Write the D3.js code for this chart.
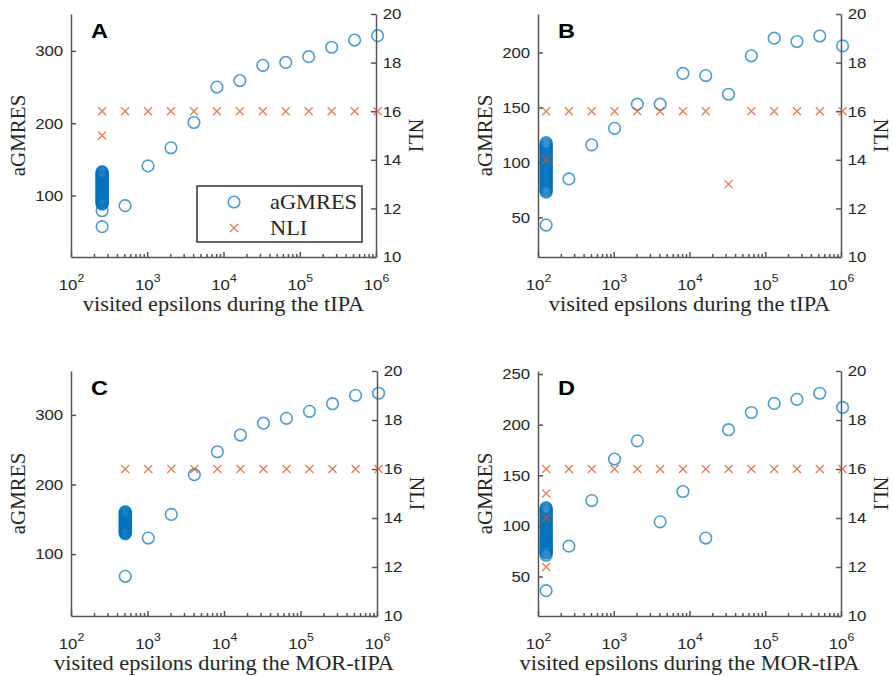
<!DOCTYPE html>
<html>
  <head>
    <meta charset="utf-8" />
    <script src="https://cdn.jsdelivr.net/npm/d3@7"></script>
    <style>
      body { margin: 0; background: #fff; }
      .tick line, .domain { stroke: #555; stroke-width: 1.5; }
      .tick text { fill: #262626; }
      .circ { fill: none; stroke: #0072BD; stroke-width: 1.6; stroke-opacity: 0.7; }
      .cross { fill: none; stroke: #D95319; stroke-width: 1.3; stroke-opacity: 0.75; }
    </style>
  </head>
  <body>
    <script type="text/javascript">
// --- data ---
// A: tIPA
var epsA = [256, 512, 1024, 2048, 4096, 8192, 16384, 32768, 65536, 131072, 262144, 524288, 1048576];
var gmresA = [57, 86, 141, 166, 201, 250, 259, 280, 284, 292, 305, 315, 321];
// the dense run of aGMRES values at the first epsilon (looks like a solid bar)
var gmresAFirst = [79, 88, 89, 90, 91, 92, 93, 94, 95, 96, 97, 98, 99, 100, 101, 102, 103, 104, 105, 106,
  107, 108, 109, 110, 111, 112, 113, 114, 115, 116, 117, 118, 119, 120, 121, 122, 123, 124, 125, 126,
  127, 128, 129, 130, 131, 132, 133];
var nliA = [16, 16, 16, 16, 16, 16, 16, 16, 16, 16, 16, 16, 16];
var nliAFirst = [15];

// B: tIPA
var epsB = [128, 256, 512, 1024, 2048, 4096, 8192, 16384, 32768, 65536, 131072, 262144, 524288, 1048576];
var gmresB = [43, 85, 116, 131, 153, 153, 181, 179, 162, 197, 213, 210, 215, 206];
var gmresBFirst = [73, 74, 75, 76, 77, 78, 79, 80, 81, 82, 83, 84, 85, 86, 87, 88, 89, 90, 91, 92,
  93, 94, 95, 96, 97, 98, 99, 100, 101, 102, 103, 104, 105, 106, 107, 108, 109, 110, 111, 112,
  113, 114, 115, 116, 117, 118];
var nliB = [16, 16, 16, 16, 16, 16, 16, 16, 13, 16, 16, 16, 16, 16];
var nliBFirst = [14];

// C: MOR-tIPA
var epsC = [512, 1024, 2048, 4096, 8192, 16384, 32768, 65536, 131072, 262144, 524288, 1048576];
var gmresC = [68, 123, 157, 214, 247, 271, 288, 295, 305, 316, 328, 331];
var gmresCFirst = [129, 130, 131, 132, 133, 134, 135, 136, 137, 138, 139, 140, 141, 142, 143, 144, 145,
  146, 147, 148, 149, 150, 151, 152, 153, 154, 155, 156, 157, 158, 159, 160, 161];
var nliC = [16, 16, 16, 16, 16, 16, 16, 16, 16, 16, 16, 16];
var nliCFirst = [];

// D: MOR-tIPA
var epsD = [128, 256, 512, 1024, 2048, 4096, 8192, 16384, 32768, 65536, 131072, 262144, 524288, 1048576];
var gmresD = [36, 80, 125, 166, 184, 104, 134, 88, 195, 212, 221, 225, 231, 217];
var gmresDFirst = [71, 73, 74, 75, 76, 77, 78, 79, 80, 81, 82, 83, 84, 85, 86, 87, 88, 89, 90, 91,
  92, 93, 94, 95, 96, 97, 98, 99, 100, 101, 102, 103, 104, 105, 106, 107, 108, 109, 110, 111,
  112, 113, 114, 115, 116, 117, 118];
var nliD = [16, 16, 16, 16, 16, 16, 16, 16, 16, 16, 16, 16, 16, 16];
var nliDFirst = [15, 14, 12];

// tick labels
var xMajor = [1e2, 1e3, 1e4, 1e5, 1e6];
var nliTicks = [10, 12, 14, 16, 18, 20];
var ticksA = [100, 200, 300];
var ticksB = [50, 100, 150, 200];
var ticksC = [100, 200, 300];
var ticksD = [50, 100, 150, 200, 250];

var panels = [
  {name: "A", left: 71, right: 376, top: 14, bottom: 257, yDom: [15, 351], yTicks: ticksA,
   eps: epsA, gmres: gmresA, first: gmresAFirst, nli: nliA, nliFirst: nliAFirst,
   xlabel: "visited epsilons during the tIPA", legend: true},
  {name: "B", left: 538, right: 841, top: 14, bottom: 257, yDom: [14, 235], yTicks: ticksB,
   eps: epsB, gmres: gmresB, first: gmresBFirst, nli: nliB, nliFirst: nliBFirst,
   xlabel: "visited epsilons during the tIPA", legend: false},
  {name: "C", left: 71, right: 377, top: 371, bottom: 616, yDom: [11, 363], yTicks: ticksC,
   eps: epsC, gmres: gmresC, first: gmresCFirst, nli: nliC, nliFirst: nliCFirst,
   xlabel: "visited epsilons during the MOR-tIPA", legend: false},
  {name: "D", left: 538, right: 841, top: 371, bottom: 616, yDom: [11, 253], yTicks: ticksD,
   eps: epsD, gmres: gmresD, first: gmresDFirst, nli: nliD, nliFirst: nliDFirst,
   xlabel: "visited epsilons during the MOR-tIPA", legend: false}
];

var svg = d3.select("body").append("svg")
  .attr("width", 893)
  .attr("height", 676);

var stretch = "scale(1.12,1)";
var crossPath = "M-4,-4L4,4M-4,4L4,-4";
var sans = "'Liberation Sans', Arial, sans-serif";
var serif = "'Liberation Serif', 'Times New Roman', serif";

function drawPanel(p) {
  var x = d3.scaleLog().domain([1e2, 1e6]).range([p.left, p.right]);
  var yL = d3.scaleLinear().domain(p.yDom).range([p.bottom, p.top]);
  var yR = d3.scaleLinear().domain([10, 20]).range([p.bottom, p.top]);
  var g = svg.append("g");

  // minor log ticks on the x axis
  var minor = x.ticks().filter(function(v) { return xMajor.indexOf(v) < 0; });
  g.append("g")
    .attr("transform", "translate(0," + p.bottom + ")")
    .call(d3.axisBottom(x).tickValues(minor).tickSizeInner(-3).tickSizeOuter(0).tickFormat(""))
    .select(".domain").remove();

  var xa = g.append("g")
    .attr("transform", "translate(0," + p.bottom + ")")
    .call(d3.axisBottom(x).tickValues(xMajor).tickSizeInner(-5).tickSizeOuter(0).tickFormat(""));
  xa.selectAll(".tick").append("text")
    .attr("y", 33)
    .attr("text-anchor", "middle")
    .attr("font-family", sans)
    .attr("font-size", 15)
    .attr("transform", stretch)
    .each(function(d) {
      var t = d3.select(this);
      t.append("tspan").text("10");
      t.append("tspan").attr("dy", -8).attr("font-size", 11).text(Math.round(Math.log10(d)));
    });

  var la = g.append("g")
    .attr("transform", "translate(" + p.left + ",0)")
    .call(d3.axisLeft(yL).tickValues(p.yTicks).tickSizeInner(-5).tickSizeOuter(0).tickPadding(7));
  la.selectAll("text")
    .attr("font-family", sans)
    .attr("font-size", 15)
    .attr("transform", stretch);

  var ra = g.append("g")
    .attr("transform", "translate(" + p.right + ",0)")
    .call(d3.axisRight(yR).tickValues(nliTicks).tickSizeInner(-5).tickSizeOuter(0).tickPadding(6));
  ra.selectAll("text")
    .attr("font-family", sans)
    .attr("font-size", 15)
    .attr("transform", stretch);

  // axis titles
  g.append("text")
    .attr("transform", "translate(" + ((p.left + p.right) / 2) + "," + (p.bottom + 54) + ") " + stretch)
    .attr("text-anchor", "middle")
    .attr("font-family", serif)
    .attr("font-size", 20)
    .attr("fill", "#262626")
    .text(p.xlabel);

  g.append("text")
    .attr("transform", "translate(" + (p.left - 53) + "," + ((p.top + p.bottom) / 2) + ") rotate(-90)")
    .attr("text-anchor", "middle")
    .attr("dy", "0.35em")
    .attr("font-family", serif)
    .attr("font-size", 21)
    .attr("fill", "#262626")
    .text("aGMRES");

  g.append("text")
    .attr("transform", "translate(" + (p.right + 40) + "," + ((p.top + p.bottom) / 2) + ") rotate(90)")
    .attr("text-anchor", "middle")
    .attr("dy", "0.35em")
    .attr("font-family", serif)
    .attr("font-size", 20)
    .attr("fill", "#262626")
    .text("NLI");

  // panel letter
  g.append("text")
    .attr("transform", "translate(" + (p.left + 20) + "," + (p.top + 24) + ") " + stretch)
    .attr("font-family", sans)
    .attr("font-weight", "bold")
    .attr("font-size", 21)
    .attr("fill", "#000")
    .text(p.name);

  // aGMRES circles: extra runs at the first epsilon, then one per epsilon
  var circ = p.first.map(function(v) { return [p.eps[0], v]; })
    .concat(p.eps.map(function(e, i) { return [e, p.gmres[i]]; }));
  g.selectAll(".circ")
    .data(circ)
    .enter()
    .append("circle")
      .attr("class", "circ")
      .attr("cx", function(d) { return x(d[0]); })
      .attr("cy", function(d) { return yL(d[1]); })
      .attr("r", 5.8);

  var crosses = p.nliFirst.map(function(v) { return [p.eps[0], v]; })
    .concat(p.eps.map(function(e, i) { return [e, p.nli[i]]; }));
  g.selectAll(".cross")
    .data(crosses)
    .enter()
    .append("path")
      .attr("class", "cross")
      .attr("d", crossPath)
      .attr("transform", function(d) { return "translate(" + x(d[0]) + "," + yR(d[1]) + ")"; });

  if (p.legend) {
    var lg = g.append("g").attr("transform", "translate(197,186)");
    lg.append("rect")
      .attr("width", 165).attr("height", 56)
      .attr("fill", "#fff").attr("stroke", "#262626").attr("stroke-width", 1.4);
    lg.append("circle").attr("class", "circ").attr("cx", 37).attr("cy", 16).attr("r", 5.8);
    lg.append("path").attr("class", "cross").attr("d", crossPath).attr("transform", "translate(37,42)");
    lg.selectAll(".ltxt")
      .data(["aGMRES", "NLI"])
      .enter()
      .append("text")
        .attr("transform", function(d, i) { return "translate(73," + (23 + i * 26) + ") " + stretch; })
        .attr("font-family", serif)
        .attr("font-size", 20)
        .attr("fill", "#262626")
        .text(function(d) { return d; });
  }
}

panels.forEach(drawPanel);
    </script>
  </body>
</html>
